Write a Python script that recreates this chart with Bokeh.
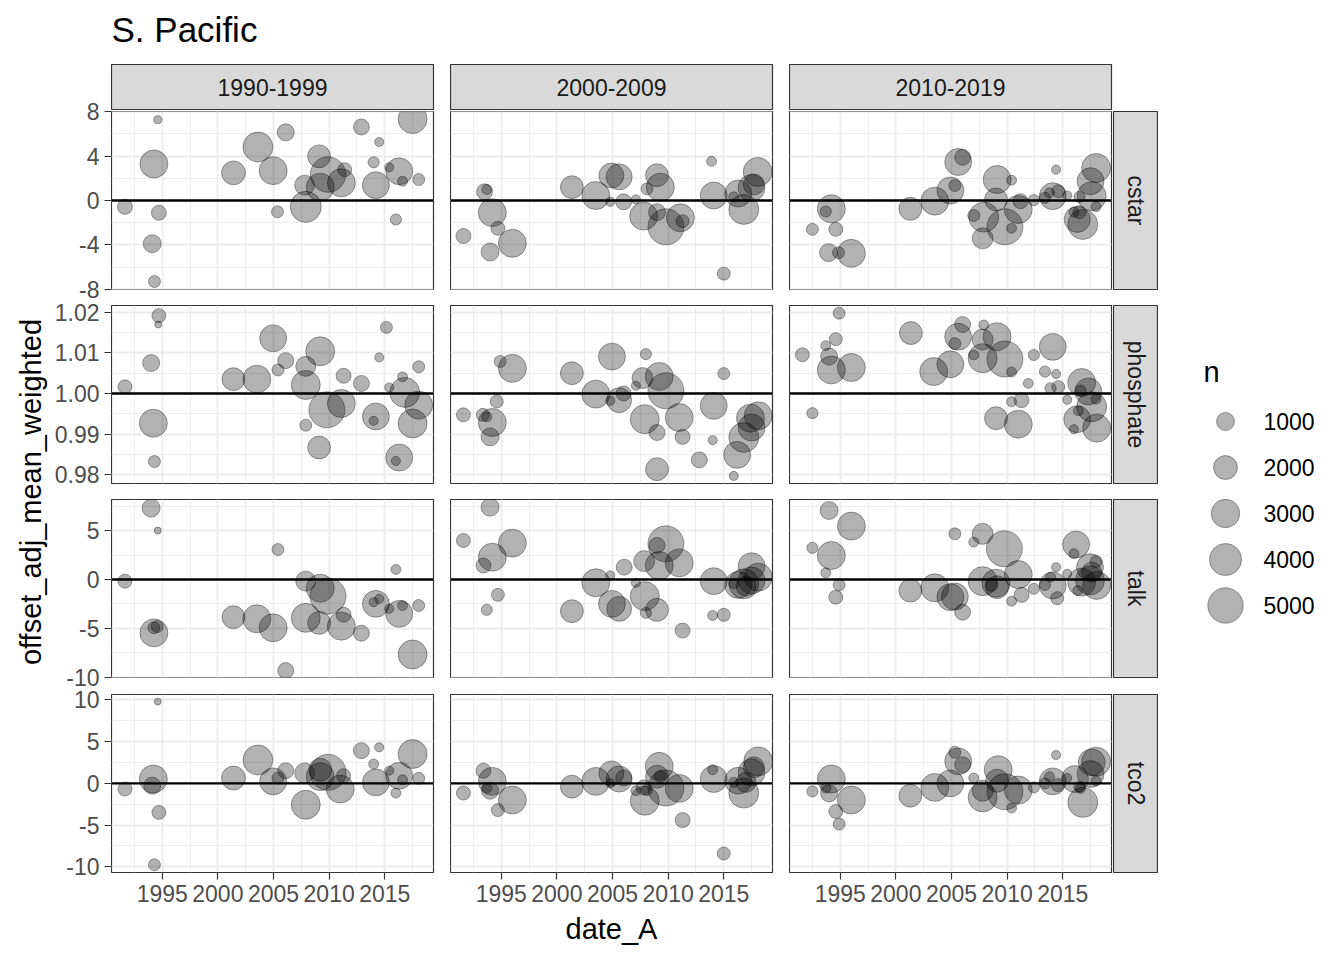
import math
from bokeh.plotting import figure
from bokeh.layouts import row, column
from bokeh.models import (Range1d, FixedTicker, Span, PrintfTickFormatter, Spacer,
                          ColumnDataSource, Grid, LinearAxis)
from bokeh.embed import file_html
from bokeh.resources import INLINE
from bokeh.core.properties import value

FONT = "Liberation Sans"
TITLE = "S. Pacific"
X_LABEL = "date_A"
Y_LABEL = "offset_adj_mean_weighted"
LEGEND_TITLE = "n"

decades = ["1990-1999", "2000-2009", "2010-2019"]
params = ["cstar", "phosphate", "talk", "tco2"]
reference_lines = [0, 1, 0, 0]

x_ticks = [1995, 2000, 2005, 2010, 2015]
x_minor = [1992.5, 1997.5, 2002.5, 2007.5, 2012.5, 2017.5]
y_ticks_cstar = [-8, -4, 0, 4, 8]
y_minor_cstar = [-6, -2, 2, 6]
y_ticks_phosphate = [0.98, 0.99, 1.00, 1.01, 1.02]
y_minor_phosphate = [0.985, 0.995, 1.005, 1.015]
y_ticks_talk = [-10, -5, 0, 5]
y_minor_talk = [-7.5, -2.5, 2.5, 7.5]
y_ticks_tco2 = [-10, -5, 0, 5, 10]
y_minor_tco2 = [-7.5, -2.5, 2.5, 7.5]
legend_n = [1000, 2000, 3000, 4000, 5000]

# ---------------- data ----------------
cstar_1990_year = [1994.6, 1994.25, 1991.65, 1994.7, 1994.1, 1994.3, 2001.4, 2003.6, 2006.1, 2004.97, 2005.36, 2007.9, 2007.8, 2009.1, 2009.9, 2009.2, 2011.1, 2011.4, 2012.9, 2014.5, 2014.0, 2014.2, 2016.3, 2015.4, 2016.6, 2016.0, 2018.05, 2017.5]
cstar_1990_value = [7.28, 3.29, -0.57, -1.1, -3.89, -7.3, 2.49, 4.82, 6.14, 2.69, -1.02, -0.57, 1.38, 3.98, 2.34, 1.2, 1.59, 2.78, 6.62, 5.27, 3.44, 1.38, 2.63, 2.99, 1.74, -1.71, 1.89, 7.34]
cstar_1990_n = [150, 2900, 630, 630, 1000, 360, 2000, 3400, 870, 2900, 360, 3700, 1290, 1800, 5000, 2900, 2900, 530, 740, 190, 300, 2650, 2650, 190, 230, 300, 360, 3150]

cstar_2000_year = [1991.6, 1993.5, 1993.7, 1994.2, 1994.7, 1994.0, 1996.0, 2001.35, 2003.5, 2004.9, 2005.6, 2004.8, 2006.0, 2007.1, 2008.1, 2009.0, 2009.3, 2007.8, 2009.0, 2009.8, 2011.1, 2011.3, 2013.9, 2014.1, 2015.0, 2016.3, 2015.9, 2016.8, 2017.5, 2017.7, 2018.05]
cstar_2000_value = [-3.2, 0.78, 0.99, -1.1, -2.51, -4.64, -3.86, 1.2, 0.45, 2.25, 2.13, -0.12, -0.12, 0.09, 1.05, 2.28, 1.2, -1.41, -1.05, -2.37, -1.56, -1.86, 3.53, 0.45, -6.59, 0.63, 0.33, -0.81, 1.14, 1.44, 2.57]
cstar_2000_n = [630, 740, 230, 2900, 530, 1000, 2900, 1800, 2900, 2200, 2440, 190, 740, 190, 360, 1800, 2900, 2900, 870, 5200, 2900, 440, 230, 2650, 440, 2650, 230, 3400, 2650, 1460, 3150]

cstar_2010_year = [1992.5, 1994.2, 1993.7, 1994.6, 1993.95, 1994.85, 1996.0, 2001.3, 2003.5, 2004.9, 2005.3, 2005.6, 2006.0, 2009.1, 2010.4, 2009.0, 2007.0, 2007.9, 2007.8, 2009.8, 2010.4, 2011.0, 2011.2, 2012.4, 2013.4, 2014.1, 2014.4, 2013.8, 2014.6, 2015.4, 2016.5, 2016.0, 2016.3, 2016.8, 2016.5, 2017.5, 2018.0, 2017.6, 2018.0]
cstar_2010_value = [-2.6, -0.75, -0.99, -2.6, -4.7, -4.7, -4.76, -0.75, -0.06, 0.9, 1.35, 3.47, 3.89, 1.89, 1.83, 0.09, -1.35, -1.5, -3.41, -2.37, -2.51, -0.81, -0.06, 0.03, 0.24, 0.39, 2.78, 0.69, 0.84, 0.45, 0.33, -1.05, -1.71, -2.16, -1.05, 1.74, 2.93, 0.39, -0.57]
cstar_2010_n = [360, 2900, 300, 530, 1000, 360, 2900, 1800, 2900, 2650, 360, 2650, 740, 2900, 230, 1800, 360, 3400, 1460, 5200, 230, 2900, 630, 300, 300, 2650, 190, 230, 440, 190, 300, 230, 2440, 3400, 440, 2650, 3150, 3150, 230]

phosphate_1990_year = [1991.65, 1994.7, 1994.64, 1994.0, 1994.2, 1994.3, 2001.4, 2003.5, 2004.97, 2005.4, 2006.1, 2007.9, 2007.9, 2009.2, 2007.9, 2009.8, 2011.1, 2011.3, 2012.9, 2009.1, 2015.15, 2014.5, 2014.2, 2014.0, 2015.4, 2016.6, 2016.8, 2018.05, 2018.05, 2017.5, 2016.3, 2016.0]
phosphate_1990_value = [1.00165, 1.0192, 1.0170, 1.0075, 0.99267, 0.9832, 1.00354, 1.00354, 1.0136, 1.0058, 1.0081, 1.0067, 1.0021, 1.0104, 0.99218, 0.99597, 0.99753, 1.00436, 1.00247, 0.98667, 1.0163, 1.0089, 0.99432, 0.99325, 1.00148, 1.0041, 1.00025, 1.0066, 0.99712, 0.99259, 0.9842, 0.98337]
phosphate_1990_n = [530, 530, 120, 870, 2900, 360, 1800, 2900, 2650, 360, 740, 1290, 3150, 3150, 360, 5200, 2900, 630, 740, 1800, 360, 190, 2650, 190, 190, 230, 3400, 360, 2900, 3150, 2650, 190]

phosphate_2000_year = [1991.6, 1994.9, 1996.0, 1994.6, 1993.35, 1993.7, 1994.2, 1994.0, 2001.35, 2003.5, 2004.95, 2004.8, 2005.6, 2006.0, 2007.1, 2007.7, 2008.0, 2009.2, 2009.8, 2007.9, 2009.0, 2011.0, 2011.3, 2009.0, 2012.8, 2014.0, 2015.0, 2014.1, 2015.9, 2016.2, 2016.8, 2017.4, 2017.5, 2018.1]
phosphate_2000_value = [0.99473, 1.0079, 1.0062, 0.99802, 0.99473, 0.99424, 0.99284, 0.9893, 1.0050, 0.99984, 1.0091, 0.99819, 0.99835, 1.0, 1.0019, 1.0038, 1.0097, 1.0042, 1.00066, 0.99366, 0.99037, 0.99407, 0.9893, 0.98132, 0.98362, 0.98848, 1.0049, 0.99695, 0.97967, 0.98486, 0.98914, 0.99391, 0.9916, 0.99449]
phosphate_2000_n = [530, 360, 2900, 440, 440, 230, 2900, 1000, 1800, 2900, 2650, 190, 2200, 630, 190, 1460, 300, 2900, 5200, 3150, 740, 2900, 630, 1800, 740, 190, 360, 2650, 190, 2650, 3400, 2900, 2650, 2900]

phosphate_2010_year = [1991.6, 1992.5, 1994.9, 1994.6, 1993.7, 1994.0, 1994.2, 1996.0, 2001.35, 2003.4, 2004.9, 2005.6, 2006.0, 2005.3, 2007.0, 2007.8, 2007.8, 2007.9, 2009.1, 2009.8, 2010.4, 2012.4, 2014.1, 2013.4, 2011.9, 2014.4, 2013.9, 2014.6, 2010.4, 2011.3, 2009.0, 2011.0, 2015.4, 2016.7, 2016.6, 2017.3, 2017.6, 2018.0, 2016.3, 2016.4, 2016.0, 2018.05]
phosphate_2010_value = [1.00955, 0.99514, 1.0198, 1.0134, 1.0118, 1.0091, 1.0058, 1.0064, 1.0149, 1.0054, 1.0072, 1.014, 1.017, 1.0123, 1.0095, 1.0087, 1.0133, 1.0169, 1.014, 1.0085, 1.0053, 1.0095, 1.0115, 1.0054, 1.0025, 1.0048, 1.0013, 1.0016, 0.99794, 0.99835, 0.99391, 0.99243, 0.99844, 1.0027, 1.0007, 1.0005, 0.99671, 0.9986, 0.99366, 0.99572, 0.99119, 0.99144]
phosphate_2010_n = [530, 300, 360, 440, 230, 870, 2900, 2900, 1800, 2900, 2650, 2650, 740, 360, 230, 3150, 1460, 230, 2900, 5200, 230, 300, 2650, 300, 230, 190, 300, 440, 230, 630, 1800, 2900, 190, 2900, 300, 2650, 3400, 230, 2650, 230, 190, 2900]

talk_1990_year = [1994.0, 1994.6, 1991.65, 1994.25, 1994.25, 1994.55, 2001.4, 2003.5, 2004.97, 2005.4, 2006.1, 2007.9, 2007.9, 2009.1, 2009.2, 2009.9, 2011.3, 2011.1, 2012.9, 2014.2, 2014.0, 2014.5, 2016.0, 2015.4, 2016.3, 2016.6, 2018.05, 2017.5]
talk_1990_value = [7.3, 5.01, -0.17, -5.46, -4.94, -4.81, -3.85, -4.02, -4.94, 3.07, -9.31, -0.17, -3.92, -4.43, -0.89, -1.7, -3.61, -4.77, -5.49, -2.49, -2.32, -1.98, 1.02, -3.0, -3.51, -2.66, -2.66, -7.67]
talk_1990_n = [1000, 120, 530, 2900, 360, 360, 1800, 2900, 2900, 360, 740, 1290, 3150, 1800, 2900, 5200, 630, 2900, 740, 2650, 190, 190, 230, 190, 2650, 230, 360, 3150]

talk_2000_year = [1991.6, 1994.0, 1996.0, 1994.2, 1993.4, 1994.7, 1993.7, 2001.35, 2003.5, 2004.8, 2004.95, 2005.6, 2006.05, 2007.1, 2007.85, 2007.9, 2008.0, 2009.0, 2009.2, 2009.0, 2009.8, 2011.0, 2011.3, 2014.1, 2014.0, 2015.0, 2015.9, 2016.3, 2016.8, 2017.5, 2017.5, 2018.1, 2017.0]
talk_2000_value = [3.99, 7.4, 3.72, 2.28, 1.43, -1.57, -3.1, -3.24, -0.34, 0.41, -2.49, -3.0, 1.26, -0.34, 1.88, -1.7, -3.41, -3.1, 1.43, 3.48, 3.65, 1.7, -5.22, -0.17, -3.68, -3.61, -0.44, -0.55, -0.44, 1.36, -0.1, 0.24, -0.68]
talk_2000_n = [530, 1000, 2900, 2900, 630, 440, 300, 1800, 2900, 190, 2650, 2200, 740, 190, 1460, 3150, 300, 1800, 2900, 740, 5200, 2900, 630, 2650, 230, 440, 230, 2650, 3400, 2650, 2650, 2900, 1290]

talk_2010_year = [1994.0, 1996.0, 1992.5, 1994.2, 1993.7, 1994.9, 1994.6, 2001.3, 2003.5, 2004.9, 2005.3, 2005.3, 2006.0, 2007.0, 2007.8, 2009.75, 2007.8, 2009.0, 2008.6, 2009.1, 2011.0, 2010.4, 2011.3, 2012.4, 2013.4, 2014.1, 2014.4, 2013.9, 2014.5, 2015.4, 2016.2, 2016.0, 2017.45, 2018.0, 2016.7, 2016.35, 2017.45, 2018.05, 2017.6]
talk_2010_value = [7.06, 5.46, 3.24, 2.45, 0.68, -0.55, -1.81, -1.13, -0.85, -1.81, -1.74, 4.67, -3.34, 3.82, 4.67, 3.14, -0.17, -0.38, -0.55, -0.78, 0.51, -2.22, -1.57, -0.95, -0.55, -0.61, 1.26, 0.24, -1.91, 0.58, 3.58, 2.63, 1.26, 1.84, -0.27, -1.13, -0.1, -0.61, 0.75]
talk_2010_n = [1000, 2900, 300, 2900, 230, 360, 530, 1800, 2900, 2650, 2650, 360, 740, 230, 1460, 5200, 3150, 2900, 440, 1800, 2900, 230, 630, 300, 300, 2650, 190, 230, 440, 190, 2650, 230, 2650, 360, 2900, 230, 3150, 2900, 1290]

tco2_1990_year = [1994.6, 1991.65, 1994.2, 1994.1, 1994.7, 1994.3, 2001.4, 2003.6, 2004.97, 2005.4, 2006.1, 2007.9, 2007.8, 2009.2, 2009.9, 2009.2, 2011.0, 2011.3, 2012.9, 2014.5, 2014.0, 2014.2, 2015.4, 2016.3, 2016.6, 2016.0, 2018.05, 2017.5]
tco2_1990_value = [9.8, -0.68, 0.52, -0.28, -3.48, -9.76, 0.64, 2.8, 0.24, 0.64, 1.52, -2.56, 1.24, 1.64, 1.32, 0.8, -0.68, 0.92, 3.92, 4.32, 2.32, 0.12, 1.52, 0.92, 0.44, -1.16, 0.6, 3.52]
tco2_1990_n = [120, 530, 2900, 870, 530, 360, 2000, 3400, 2650, 360, 740, 3150, 1290, 1800, 5200, 2900, 2900, 530, 740, 190, 230, 2650, 190, 2650, 230, 230, 360, 3150]

tco2_2000_year = [1991.6, 1993.4, 1994.2, 1993.7, 1994.0, 1994.7, 1996.0, 2001.35, 2003.5, 2004.9, 2005.6, 2004.8, 2006.0, 2007.1, 2007.8, 2007.9, 2008.1, 2009.2, 2009.0, 2009.3, 2009.8, 2011.0, 2011.3, 2014.0, 2014.1, 2015.0, 2015.9, 2016.3, 2016.8, 2017.5, 2017.7, 2018.1, 2017.0]
tco2_2000_value = [-1.16, 1.52, 0.24, -0.56, -0.88, -3.2, -2.0, -0.4, 0.24, 1.2, 0.52, 0.0, 0.64, -0.88, -0.48, -2.08, -0.8, 2.04, 0.8, 0.84, -0.56, -0.6, -4.4, 1.64, 0.52, -8.4, 0.12, 0.32, -1.16, 1.32, 1.92, 2.64, 0.12]
tco2_2000_n = [530, 630, 2900, 230, 870, 440, 2900, 1800, 2900, 2200, 2440, 190, 740, 230, 630, 3150, 300, 2900, 1800, 360, 5200, 2900, 630, 230, 2650, 440, 230, 2650, 3400, 2650, 1460, 3150, 1290]

tco2_2010_year = [1992.5, 1994.2, 1993.7, 1994.0, 1994.6, 1994.9, 1996.0, 2001.3, 2003.5, 2004.9, 2005.3, 2005.6, 2006.0, 2007.0, 2007.8, 2007.8, 2009.2, 2009.1, 2009.8, 2010.4, 2011.0, 2012.4, 2013.4, 2014.1, 2014.4, 2013.8, 2014.55, 2015.4, 2016.5, 2016.1, 2016.8, 2017.5, 2018.0, 2017.6, 2018.0, 2016.6]
tco2_2010_value = [-0.96, 0.52, -0.56, -1.2, -3.36, -4.88, -2.0, -1.48, -0.48, 0.0, 3.72, 2.64, 2.24, 0.64, -1.68, -0.88, 1.64, 0.32, -1.0, -2.96, -0.8, -0.48, 0.0, 0.24, 3.4, 0.8, -0.2, 0.64, -0.4, 0.52, -2.28, 1.12, 2.6, 2.52, 0.32, -0.6]
tco2_2010_n = [300, 2900, 230, 870, 530, 360, 2900, 1800, 2900, 2650, 360, 2650, 740, 230, 3150, 1460, 2900, 1800, 5200, 230, 2900, 300, 300, 2650, 190, 230, 440, 190, 300, 2650, 3400, 2650, 3150, 2650, 230, 230]

DATA = {
    ("cstar", "1990-1999"): (cstar_1990_year, cstar_1990_value, cstar_1990_n),
    ("cstar", "2000-2009"): (cstar_2000_year, cstar_2000_value, cstar_2000_n),
    ("cstar", "2010-2019"): (cstar_2010_year, cstar_2010_value, cstar_2010_n),
    ("phosphate", "1990-1999"): (phosphate_1990_year, phosphate_1990_value, phosphate_1990_n),
    ("phosphate", "2000-2009"): (phosphate_2000_year, phosphate_2000_value, phosphate_2000_n),
    ("phosphate", "2010-2019"): (phosphate_2010_year, phosphate_2010_value, phosphate_2010_n),
    ("talk", "1990-1999"): (talk_1990_year, talk_1990_value, talk_1990_n),
    ("talk", "2000-2009"): (talk_2000_year, talk_2000_value, talk_2000_n),
    ("talk", "2010-2019"): (talk_2010_year, talk_2010_value, talk_2010_n),
    ("tco2", "1990-1999"): (tco2_1990_year, tco2_1990_value, tco2_1990_n),
    ("tco2", "2000-2009"): (tco2_2000_year, tco2_2000_value, tco2_2000_n),
    ("tco2", "2010-2019"): (tco2_2010_year, tco2_2010_value, tco2_2010_n),
}

Y_TICKS = [y_ticks_cstar, y_ticks_phosphate, y_ticks_talk, y_ticks_tco2]
Y_MINOR = [y_minor_cstar, y_minor_phosphate, y_minor_talk, y_minor_tco2]
Y_FORMATS = ["%d", "%.2f", "%d", "%d"]

# ---------------- layout / style ----------------
X_RANGE = (1990.44, 2019.38)
Y_RANGES = [(-8.02, 8.02), (0.9778, 1.0217), (-10.02, 8.18), (-10.68, 10.65)]

FRAME_W, FRAME_H = 322, 178
AXIS_W, GAP_X, STRIP_GAP, STRIP_W = 59, 17, 2, 45
ROW_BOTTOM = [16, 16, 17, 38]
AXIS_PAD = 14          # room above/below each y-axis for its end labels
AXIS_PAD_FIRST_TOP = 20
AXIS_PAD_LAST_BOTTOM = 20
TITLE_H, TOPSTRIP_H, TOPSTRIP_GAP, XLAB_H = 64, 45, 2, 40
YLAB_W, LEG_W = 52, 178
COL_W = [FRAME_W + GAP_X, FRAME_W + GAP_X, FRAME_W + STRIP_GAP]
GRID_W = sum(COL_W) + STRIP_W
TOTAL_H = TITLE_H + TOPSTRIP_H + TOPSTRIP_GAP + sum(FRAME_H + b for b in ROW_BOTTOM) + XLAB_H

GRID = "#EBEBEB"
BORDER = "#333333"
STRIP_FILL = "#D9D9D9"

N_MIN, N_MAX, D_MIN, D_MAX = 100, 5200, 5, 36


def n_to_diameter(n):
    t = min(max((n - N_MIN) / (N_MAX - N_MIN), 0.0), 1.0)
    return D_MIN + (D_MAX - D_MIN) * math.sqrt(t)


def base_fig(width, height, xr, yr, l=0, r=0, t=0, b=0):
    p = figure(width=width, height=height, x_range=Range1d(*xr), y_range=Range1d(*yr),
               output_backend="svg", toolbar_location=None, title=None,
               x_axis_location=None, y_axis_location=None,
               min_border_left=l, min_border_right=r, min_border_top=t, min_border_bottom=b)
    p.center = []
    p.outline_line_color = None
    p.background_fill_color = "white"
    p.border_fill_color = "white"
    return p


def style_axis(ax):
    ax.axis_line_color = None
    ax.major_tick_line_color = BORDER
    ax.major_tick_line_width = 1.2
    ax.major_tick_out = 7
    ax.major_tick_in = 0
    ax.minor_tick_line_color = None
    ax.major_label_text_font = FONT
    ax.major_label_text_font_size = "23px"
    ax.major_label_text_color = "#4D4D4D"
    ax.major_label_standoff = 5


def make_axis_fig(ri, margin_top):
    top = AXIS_PAD_FIRST_TOP if ri == 0 else AXIS_PAD
    bottom = AXIS_PAD_LAST_BOTTOM if ri == len(params) - 1 else AXIS_PAD
    p = base_fig(AXIS_W, top + FRAME_H + bottom, (0, 1), Y_RANGES[ri],
                 l=AXIS_W - 1, r=0, t=top, b=bottom)
    p.background_fill_color = None
    p.border_fill_color = None
    p.margin = (margin_top, 0, 0, 0)
    yt = FixedTicker(ticks=Y_TICKS[ri], minor_ticks=Y_MINOR[ri])
    ax = LinearAxis(ticker=yt, formatter=PrintfTickFormatter(format=Y_FORMATS[ri]))
    style_axis(ax)
    p.add_layout(ax, "left")
    return p


def make_panel(ri, ci):
    param, dec = params[ri], decades[ci]
    right = GAP_X if ci < 2 else STRIP_GAP
    bottom = ROW_BOTTOM[ri]
    p = base_fig(FRAME_W + right, FRAME_H + bottom, X_RANGE, Y_RANGES[ri],
                 l=0, r=right, t=0, b=bottom)
    xt = FixedTicker(ticks=x_ticks, minor_ticks=x_minor)
    yt = FixedTicker(ticks=Y_TICKS[ri], minor_ticks=Y_MINOR[ri])
    for dim, tk in ((0, xt), (1, yt)):
        p.add_layout(Grid(dimension=dim, ticker=tk, grid_line_color=GRID, grid_line_width=1.8,
                          minor_grid_line_color=GRID, minor_grid_line_width=0.9), "center")
    if ri == len(params) - 1:
        ax = LinearAxis(ticker=xt, formatter=PrintfTickFormatter(format="%d"))
        style_axis(ax)
        p.add_layout(ax, "below")
    years, vals, ns = DATA[(param, dec)]
    src = ColumnDataSource(dict(x=years, y=vals, n=ns, size=[n_to_diameter(n) for n in ns]))
    p.scatter(x="x", y="y", size="size", source=src, marker="circle",
              fill_color="black", fill_alpha=0.3, line_color="black", line_alpha=0.35, line_width=1)
    p.add_layout(Span(location=reference_lines[ri], dimension="width",
                      line_color="black", line_width=2.3))
    p.outline_line_color = BORDER
    p.outline_line_width = 1.2
    return p


def make_strip(label, width, height, r, b, angle=0.0):
    s = base_fig(width, height, (0, 1), (0, 1), l=0, r=r, t=0, b=b)
    s.background_fill_color = STRIP_FILL
    s.outline_line_color = BORDER
    s.outline_line_width = 1.2
    s.text(x=[0.5], y=[0.5], text=[label], angle=angle, text_align="center",
           text_baseline="middle", text_font=value(FONT), text_font_size="23px",
           text_color="#1A1A1A")
    return s


# ---- grid column (title, strips, panels, x label) ----
title_fig = base_fig(GRID_W, TITLE_H, (0, GRID_W), (TITLE_H, 0))
title_fig.text(x=[0], y=[29], text=[TITLE], text_align="left", text_baseline="middle",
               text_font=value(FONT), text_font_size="35px", text_color="black")

top_strips = []
for ci, dec in enumerate(decades):
    r = GAP_X if ci < 2 else STRIP_GAP
    top_strips.append(make_strip(dec, COL_W[ci], TOPSTRIP_H + TOPSTRIP_GAP, r, TOPSTRIP_GAP))
top_strips.append(Spacer(width=STRIP_W, height=TOPSTRIP_H + TOPSTRIP_GAP))
rows = [row(*top_strips, spacing=0)]

for ri, param in enumerate(params):
    panels = [make_panel(ri, ci) for ci in range(len(decades))]
    panels.append(make_strip(param, STRIP_W, FRAME_H + ROW_BOTTOM[ri], 0, ROW_BOTTOM[ri],
                             angle=-math.pi / 2))
    rows.append(row(*panels, spacing=0))

xlab_fig = base_fig(GRID_W, XLAB_H, (0, GRID_W), (XLAB_H, 0))
xlab_fig.text(x=[(3 * FRAME_W + 2 * GAP_X) / 2], y=[18], text=[X_LABEL], text_align="center",
              text_baseline="middle", text_font=value(FONT), text_font_size="29px",
              text_color="black")

grid_col = column(title_fig, *rows, xlab_fig, spacing=0)

# ---- y-axis column: one transparent axis figure per row, overlapping in the gaps ----
axis_children = [Spacer(width=AXIS_W,
                        height=TITLE_H + TOPSTRIP_H + TOPSTRIP_GAP - AXIS_PAD_FIRST_TOP)]
for ri in range(len(params)):
    margin_top = 0 if ri == 0 else ROW_BOTTOM[ri - 1] - 2 * AXIS_PAD
    axis_children.append(make_axis_fig(ri, margin_top))
axis_col = column(*axis_children, spacing=0)

# ---- y label ----
ylab_fig = base_fig(YLAB_W, TOTAL_H, (0, YLAB_W), (TOTAL_H, 0))
panels_top = TITLE_H + TOPSTRIP_H + TOPSTRIP_GAP
panels_bottom = TOTAL_H - XLAB_H - ROW_BOTTOM[-1]
ylab_fig.text(x=[30], y=[(panels_top + panels_bottom) / 2], text=[Y_LABEL], angle=math.pi / 2,
              text_align="center", text_baseline="middle", text_font=value(FONT),
              text_font_size="29px", text_color="black")

# ---- legend ----
leg = base_fig(LEG_W, TOTAL_H, (0, LEG_W), (TOTAL_H, 0))
leg.text(x=[45], y=[371], text=[LEGEND_TITLE], text_align="left", text_baseline="middle",
         text_font=value(FONT), text_font_size="29px", text_color="black")
key_y = [421 + 46 * i for i in range(len(legend_n))]
leg.scatter(x=[67] * len(legend_n), y=key_y, size=[n_to_diameter(n) for n in legend_n],
            marker="circle", fill_color="black", fill_alpha=0.3, line_color="black",
            line_alpha=0.35, line_width=1)
leg.text(x=[105] * len(legend_n), y=key_y, text=[str(n) for n in legend_n], text_align="left",
         text_baseline="middle", text_font=value(FONT), text_font_size="23px", text_color="black")

layout = row(ylab_fig, axis_col, grid_col, leg, spacing=0)

open("out.html", "w").write(file_html(layout, INLINE))
